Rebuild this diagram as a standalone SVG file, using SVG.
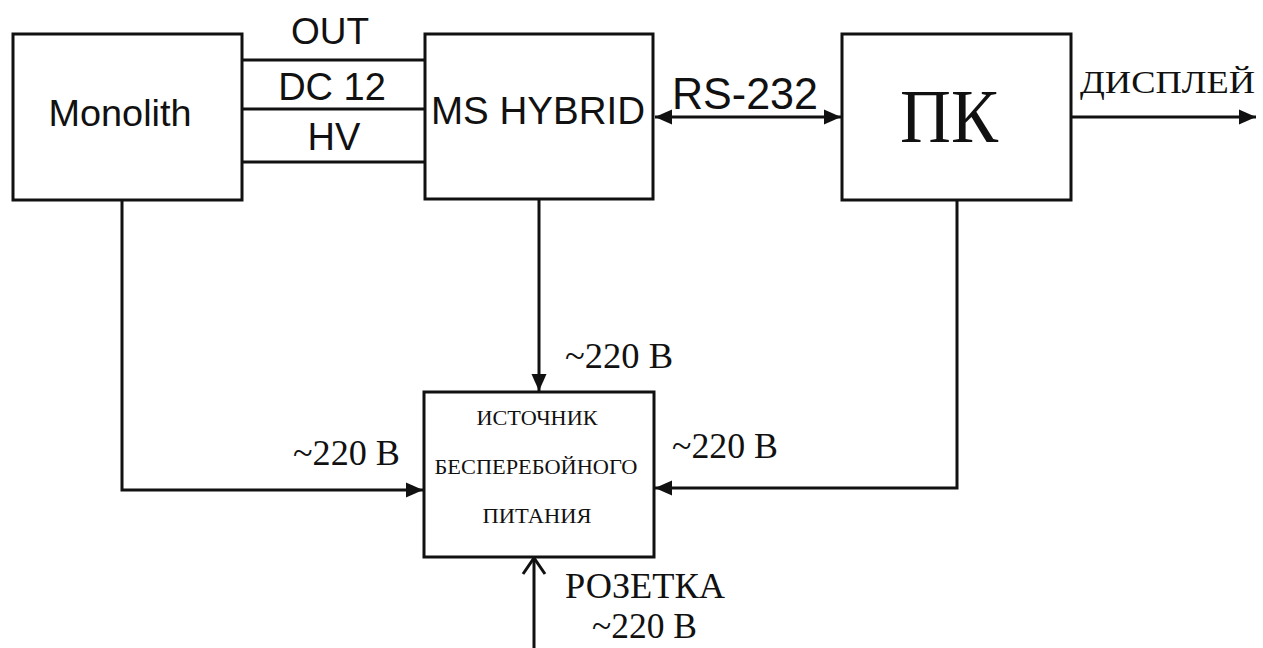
<svg xmlns="http://www.w3.org/2000/svg" width="1263" height="648" viewBox="0 0 1263 648">
<style>
.box{fill:#fff;stroke:#111;stroke-width:3}
.ln{fill:none;stroke:#111;stroke-width:3}
.sans{font-family:"Liberation Sans",Arial,sans-serif;fill:#111}
.serif{font-family:"Liberation Serif","Times New Roman",serif;fill:#111}
</style>
<defs>
<marker id="ah" markerUnits="userSpaceOnUse" markerWidth="18" markerHeight="16" refX="17" refY="7.5" orient="auto-start-reverse" viewBox="0 0 18 15">
<path d="M0,0 L17,7.5 L0,15 z" fill="#111"/>
</marker>
<marker id="open" markerUnits="userSpaceOnUse" markerWidth="26" markerHeight="26" refX="17" refY="12" orient="auto" viewBox="0 0 26 24">
<path d="M1,1 L17,12 L1,23" fill="none" stroke="#111" stroke-width="3"/>
</marker>
</defs>
<rect width="1263" height="648" fill="#fff"/>
<g id="connectors">
<line class="ln" x1="242" y1="60" x2="425" y2="60"/>
<line class="ln" x1="242" y1="109" x2="425" y2="109"/>
<line class="ln" x1="242" y1="162" x2="425" y2="162"/>
<line class="ln" x1="655" y1="117" x2="841" y2="117" marker-start="url(#ah)" marker-end="url(#ah)"/>
<line class="ln" x1="1071" y1="117" x2="1256" y2="117" marker-end="url(#ah)"/>
<line class="ln" x1="539" y1="199" x2="539" y2="391" marker-end="url(#ah)"/>
<polyline class="ln" points="122,200 122,490 423,490" marker-end="url(#ah)"/>
<polyline class="ln" points="957,200 957,488 655,488" marker-end="url(#ah)"/>
<line class="ln" x1="534" y1="648" x2="534" y2="558" marker-end="url(#open)"/>
</g>
<g id="labels">
<text class="sans" x="330" y="44" font-size="37" text-anchor="middle">OUT</text>
<text class="sans" x="332" y="100" font-size="38" text-anchor="middle">DC 12</text>
<text class="sans" x="334" y="150" font-size="38" text-anchor="middle">HV</text>
<text class="sans" x="745" y="109" font-size="44" text-anchor="middle" textLength="146" lengthAdjust="spacingAndGlyphs">RS-232</text>
<text class="serif" x="1080" y="93" font-size="32" textLength="175" lengthAdjust="spacingAndGlyphs">ДИСПЛЕЙ</text>
<text class="serif" x="565" y="368" font-size="35" textLength="108" lengthAdjust="spacingAndGlyphs">~220 В</text>
<text class="serif" x="293" y="465" font-size="35" textLength="107" lengthAdjust="spacingAndGlyphs">~220 В</text>
<text class="serif" x="672" y="458" font-size="35" textLength="106" lengthAdjust="spacingAndGlyphs">~220 В</text>
<text class="serif" x="565" y="598" font-size="35" textLength="160" lengthAdjust="spacingAndGlyphs">РОЗЕТКА</text>
<text class="serif" x="592" y="638" font-size="35" textLength="105" lengthAdjust="spacingAndGlyphs">~220 В</text>
</g>
<g id="monolith">
<rect class="box" x="13" y="34" width="229" height="166"/>
<text class="sans" x="120" y="126" font-size="37" text-anchor="middle" textLength="143" lengthAdjust="spacingAndGlyphs">Monolith</text>
</g>
<g id="ms-hybrid">
<rect class="box" x="425" y="34" width="228" height="165"/>
<text class="sans" x="538" y="124" font-size="38" text-anchor="middle" textLength="214" lengthAdjust="spacingAndGlyphs">MS HYBRID</text>
</g>
<g id="pk">
<rect class="box" x="842" y="34" width="229" height="166"/>
<text class="serif" x="949" y="142" font-size="76" text-anchor="middle" textLength="98" lengthAdjust="spacingAndGlyphs">ПК</text>
</g>
<g id="ups">
<rect class="box" x="424" y="392" width="230" height="165"/>
<text class="serif" x="537" y="425" font-size="20" text-anchor="middle" textLength="121" lengthAdjust="spacingAndGlyphs">ИСТОЧНИК</text>
<text class="serif" x="536" y="474" font-size="20" text-anchor="middle" textLength="203" lengthAdjust="spacingAndGlyphs">БЕСПЕРЕБОЙНОГО</text>
<text class="serif" x="537" y="523" font-size="20" text-anchor="middle" textLength="109" lengthAdjust="spacingAndGlyphs">ПИТАНИЯ</text>
</g>
</svg>
